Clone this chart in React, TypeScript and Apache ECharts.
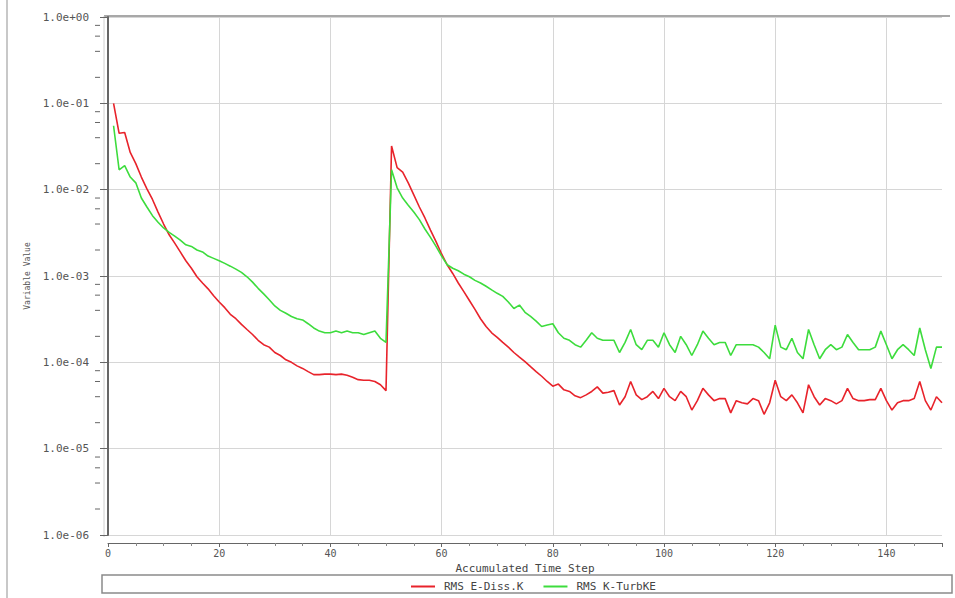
import React, { useEffect, useRef } from "react";
import * as echarts from "echarts";

// RMS E-Diss.K (red), time steps 1..150
const redStart = [0.10, 0.045, 0.046, 0.027, 0.020, 0.014, 0.0102, 0.0077, 0.0055, 0.0040, 0.0030, 0.0024, 0.0019, 0.0015, 0.00123, 0.00098, 0.00083, 0.00071, 0.00059, 0.00050, 0.00043, 0.00036, 0.00032, 0.000275, 0.00024, 0.00021, 0.00018, 0.00016, 0.00015, 0.00013, 0.00012, 0.000107, 0.00010, 0.000091, 0.000085, 0.000078, 0.000072, 0.000072, 0.000073, 0.000073, 0.000072, 0.000073, 0.000071, 0.000067, 0.000063, 0.000062, 0.000062, 0.000060, 0.000055, 0.000047];
const redRestart = [0.032, 0.018, 0.016, 0.012, 0.0087, 0.0063, 0.0047, 0.0034, 0.0025, 0.0018, 0.00135, 0.00107, 0.00083, 0.00066, 0.00052, 0.00041, 0.00032, 0.00026, 0.00022, 0.000195, 0.00017, 0.00015, 0.00013, 0.000115, 0.000102, 0.000089, 0.000078, 0.000069, 0.00006, 0.000053];
const redPlateau = [5.6e-5, 4.8e-5, 4.6e-5, 4.1e-5, 3.9e-5, 4.2e-5, 4.6e-5, 5.2e-5, 4.4e-5, 4.5e-5, 4.7e-5, 3.2e-5, 4.0e-5, 6.0e-5, 4.2e-5, 3.7e-5, 4.0e-5, 4.6e-5, 3.8e-5, 5.0e-5, 4.0e-5, 3.6e-5, 4.6e-5, 4.0e-5, 2.8e-5, 3.6e-5, 5.0e-5, 4.2e-5, 3.6e-5, 3.8e-5, 3.8e-5, 2.6e-5, 3.6e-5, 3.4e-5, 3.3e-5, 3.8e-5, 3.6e-5, 2.5e-5, 3.4e-5, 6.2e-5, 4.0e-5, 3.6e-5, 4.2e-5, 3.4e-5, 2.6e-5, 5.5e-5, 4.0e-5, 3.2e-5, 3.8e-5, 3.6e-5, 3.3e-5, 3.6e-5, 5.0e-5, 3.8e-5, 3.6e-5, 3.6e-5, 3.7e-5, 3.7e-5, 5.0e-5, 3.6e-5, 2.8e-5, 3.4e-5, 3.6e-5, 3.6e-5, 3.8e-5, 6.0e-5, 3.6e-5, 2.8e-5, 4.0e-5, 3.4e-5];

// RMS K-TurbKE (green), time steps 1..150
const greenStart = [0.055, 0.017, 0.019, 0.014, 0.012, 0.0080, 0.0063, 0.0050, 0.0042, 0.0036, 0.0032, 0.0029, 0.0026, 0.0023, 0.0022, 0.0020, 0.0019, 0.0017, 0.0016, 0.0015, 0.0014, 0.0013, 0.0012, 0.0011, 0.00098, 0.00085, 0.00072, 0.00062, 0.00053, 0.00045, 0.00040, 0.00037, 0.00034, 0.00032, 0.00031, 0.00028, 0.00025, 0.00023, 0.00022, 0.00022, 0.00023, 0.00022, 0.00023, 0.00022, 0.00022, 0.00021, 0.00022, 0.00023, 0.00019, 0.00017];
const greenRestart = [0.017, 0.0105, 0.0080, 0.0066, 0.0055, 0.0045, 0.0035, 0.0028, 0.0022, 0.0017, 0.00135, 0.00123, 0.00115, 0.00105, 0.00098, 0.00089, 0.00083, 0.00076, 0.00069, 0.00063, 0.00058, 0.0005, 0.00042, 0.00046, 0.00038, 0.00034, 0.0003, 0.00026, 0.00027, 0.00028];
const greenPlateau = [2.2e-4, 1.9e-4, 1.8e-4, 1.6e-4, 1.5e-4, 1.8e-4, 2.2e-4, 1.9e-4, 1.8e-4, 1.8e-4, 1.8e-4, 1.3e-4, 1.7e-4, 2.4e-4, 1.6e-4, 1.4e-4, 1.8e-4, 1.8e-4, 1.5e-4, 2.2e-4, 1.6e-4, 1.3e-4, 2.0e-4, 1.6e-4, 1.2e-4, 1.6e-4, 2.3e-4, 1.9e-4, 1.6e-4, 1.7e-4, 1.7e-4, 1.2e-4, 1.6e-4, 1.6e-4, 1.6e-4, 1.6e-4, 1.5e-4, 1.3e-4, 1.1e-4, 2.7e-4, 1.5e-4, 1.4e-4, 1.9e-4, 1.3e-4, 1.1e-4, 2.4e-4, 1.6e-4, 1.1e-4, 1.4e-4, 1.6e-4, 1.4e-4, 1.5e-4, 2.1e-4, 1.7e-4, 1.4e-4, 1.4e-4, 1.4e-4, 1.5e-4, 2.3e-4, 1.6e-4, 1.1e-4, 1.4e-4, 1.6e-4, 1.4e-4, 1.2e-4, 2.5e-4, 1.4e-4, 8.5e-5, 1.5e-4, 1.5e-4];

const seriesNames = ["RMS E-Diss.K", "RMS K-TurbKE"];
const xAxisTitle = "Accumulated Time Step";
const yAxisTitle = "Variable Value";

// log-axis minor tick positions: multipliers within each decade
const minorTickMultipliers = [2, 4, 6, 8];
const decadeExponents = [-6, -5, -4, -3, -2, -1];

const FONT = "DejaVu Sans Mono";
const Y_AXIS_OFFSET = 8;

function toPairs(values: number[]) {
  return values.map((v, i) => [i + 1, v]);
}

function fmtExp(v: number) {
  const e = Math.round(Math.log10(v));
  const sign = e < 0 ? "-" : "+";
  return `1.0e${sign}${String(Math.abs(e)).padStart(2, "0")}`;
}

export default function App() {
  const ref = useRef<HTMLDivElement>(null);
  useEffect(() => {
    if (!ref.current) return;
    const chart = echarts.init(ref.current, undefined, { renderer: "svg" });
    const red = toPairs([...redStart, ...redRestart, ...redPlateau]);
    const green = toPairs([...greenStart, ...greenRestart, ...greenPlateau]);
    const minorTicks: number[][] = [];
    decadeExponents.forEach((e) => {
      minorTickMultipliers.forEach((m) => minorTicks.push([0, m * Math.pow(10, e)]));
    });
    chart.setOption({
      animation: false,
      backgroundColor: "#ffffff",
      textStyle: { fontFamily: FONT },
      grid: { left: 108, right: 13, top: 17, bottom: 63, containLabel: false },
      graphic: [
        { type: "line", shape: { x1: 7, y1: 0, x2: 7, y2: 598 }, style: { stroke: "#c8c8c8", lineWidth: 2 } },
        { type: "line", shape: { x1: 104, y1: 16, x2: 950, y2: 16 }, style: { stroke: "#a8a8a8", lineWidth: 2 } },
        { type: "line", shape: { x1: 104, y1: 16, x2: 104, y2: 537 }, style: { stroke: "#d0d0d0", lineWidth: 1 } },
        { type: "rect", shape: { x: 102, y: 575, width: 850, height: 18 }, style: { fill: "none", stroke: "#8a8a8a", lineWidth: 1.5 } },
      ],
      legend: {
        data: seriesNames,
        top: 576,
        left: 406,
        itemWidth: 24,
        itemHeight: 2,
        itemGap: 20,
        icon: "rect",
        textStyle: { fontFamily: FONT, fontSize: 11, color: "#444", padding: [0, 0, 0, 4] },
      },
      xAxis: {
        type: "value",
        min: 0,
        max: 150,
        interval: 20,
        offset: 8,
        name: xAxisTitle,
        nameLocation: "middle",
        nameGap: 18,
        nameTextStyle: { fontFamily: FONT, fontSize: 11, color: "#444" },
        axisLine: { show: true, lineStyle: { color: "#666", width: 1 } },
        axisTick: { show: true, length: 4, lineStyle: { color: "#666" } },
        minorTick: { show: true, splitNumber: 4, length: 3, lineStyle: { color: "#888" } },
        axisLabel: { fontFamily: FONT, fontSize: 10, color: "#555", margin: 5, showMaxLabel: false },
        splitLine: { show: true, showMinLine: false, showMaxLine: false, lineStyle: { color: "#d6d6d6", width: 1 } },
      },
      yAxis: {
        type: "log",
        logBase: 10,
        min: 1e-6,
        max: 1,
        interval: 1,
        offset: Y_AXIS_OFFSET,
        name: yAxisTitle,
        nameLocation: "middle",
        nameGap: 67,
        nameTextStyle: { fontFamily: FONT, fontSize: 8, color: "#555" },
        axisLine: { show: true, lineStyle: { color: "#666", width: 2 } },
        axisTick: { show: true, length: 8, lineStyle: { color: "#666" } },
        axisLabel: { fontFamily: FONT, fontSize: 11, color: "#555", margin: 11, formatter: (v: number) => fmtExp(v) },
        splitLine: { show: true, lineStyle: { color: "#d6d6d6", width: 1 } },
      },
      series: [
        {
          name: seriesNames[0],
          type: "line",
          data: red,
          symbol: "none",
          lineStyle: { color: "#e8232b", width: 1.6 },
          itemStyle: { color: "#e8232b" },
        },
        {
          name: seriesNames[1],
          type: "line",
          data: green,
          symbol: "none",
          lineStyle: { color: "#3ddc3d", width: 1.6 },
          itemStyle: { color: "#3ddc3d" },
        },
        {
          name: "minorTicks",
          type: "custom",
          silent: true,
          clip: false,
          data: minorTicks,
          renderItem: (_params: any, api: any) => {
            const p = api.coord([api.value(0), api.value(1)]);
            const x = p[0] - Y_AXIS_OFFSET;
            return {
              type: "line",
              shape: { x1: x - 5, y1: p[1], x2: x, y2: p[1] },
              style: { stroke: "#666", lineWidth: 1 },
            };
          },
        },
      ],
    });
    return () => chart.dispose();
  }, []);
  return <div ref={ref} style={{ position: "absolute", left: 0, top: 0, width: 955, height: 598 }} />;
}
